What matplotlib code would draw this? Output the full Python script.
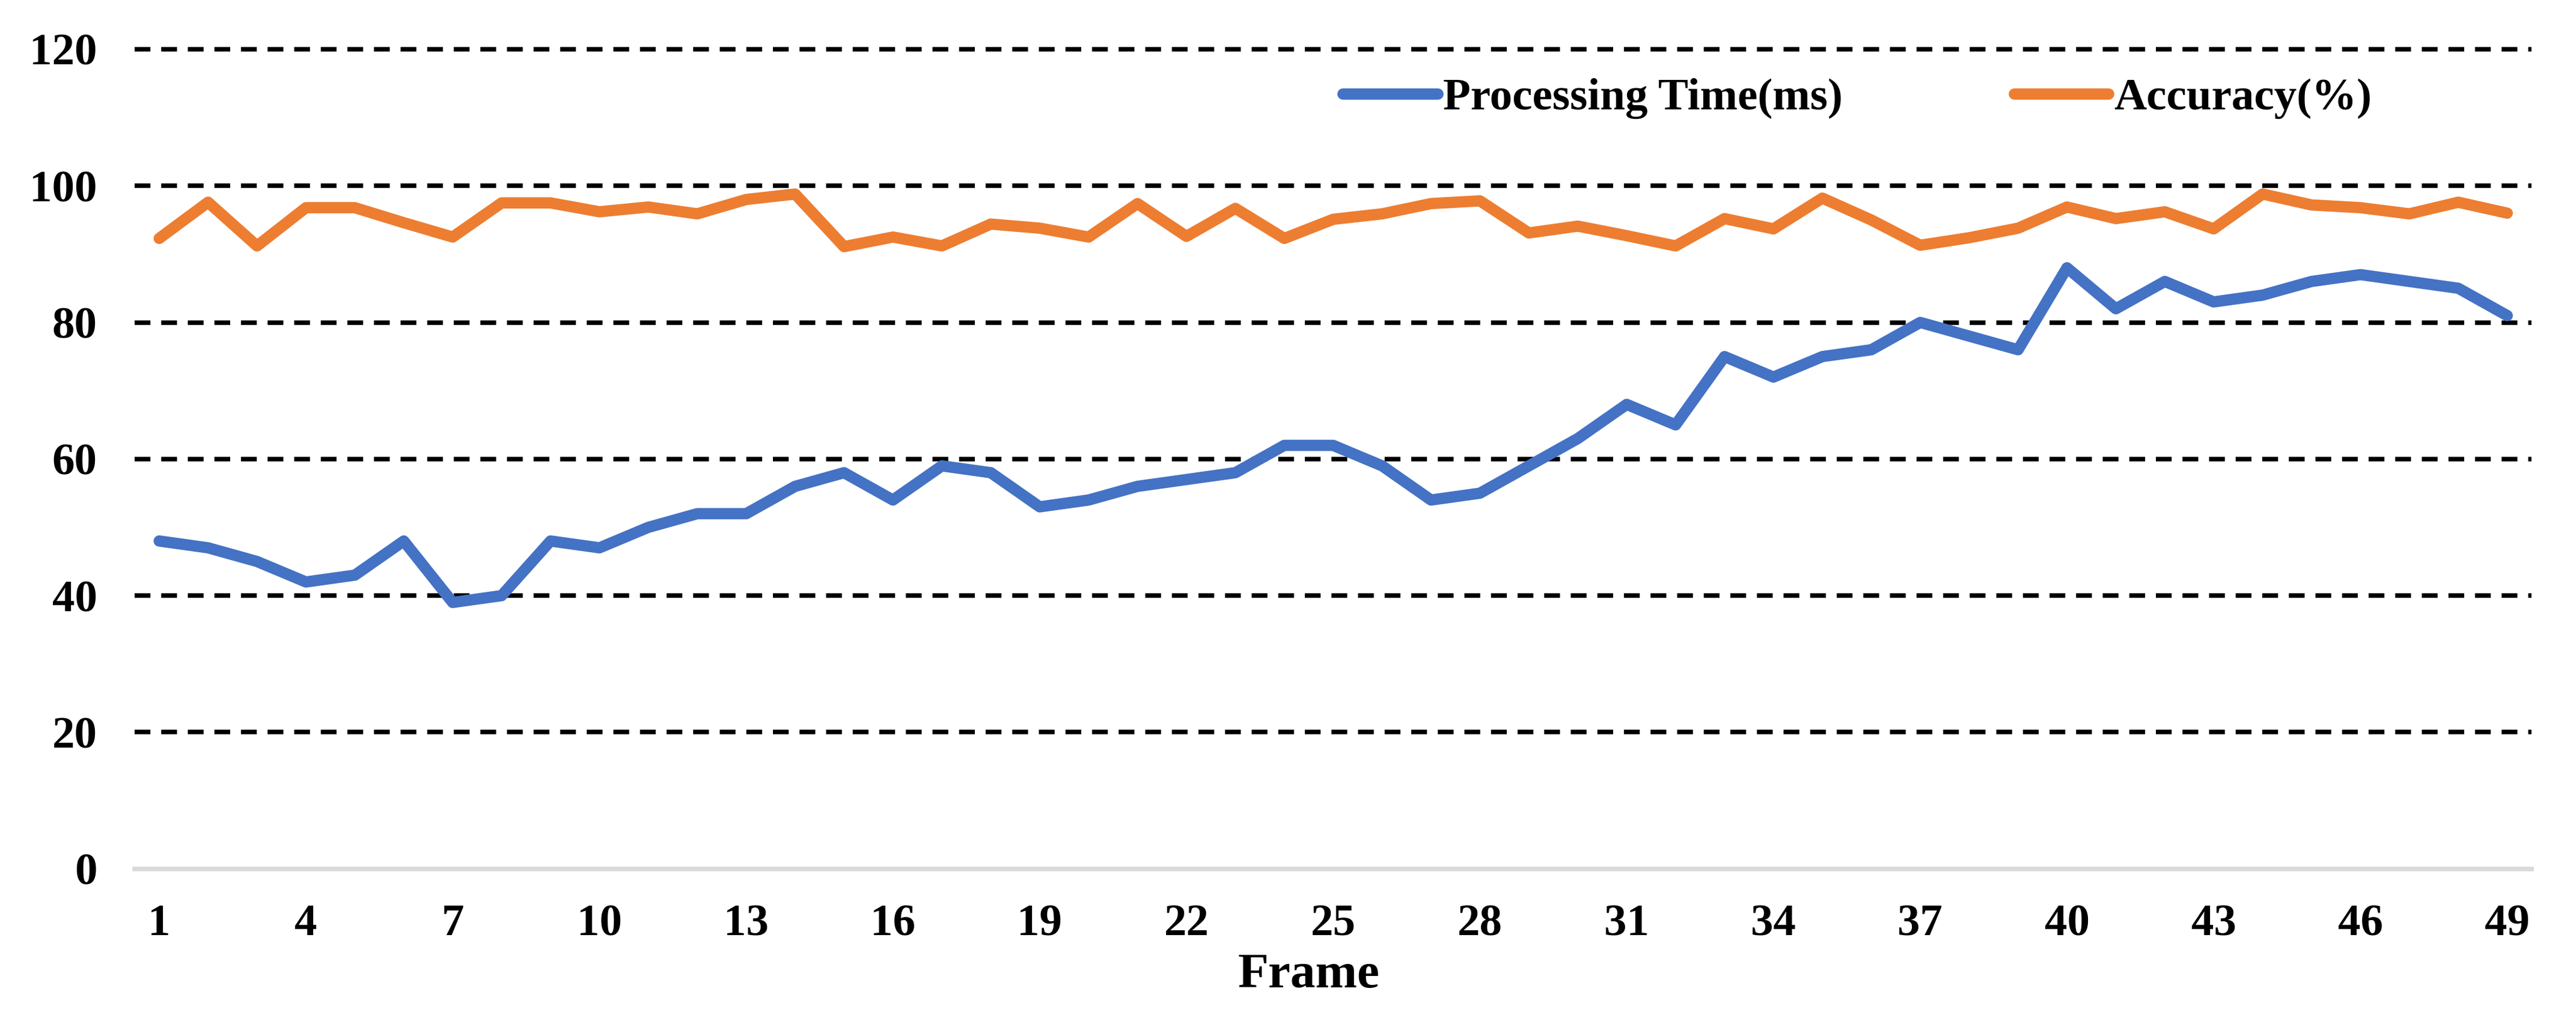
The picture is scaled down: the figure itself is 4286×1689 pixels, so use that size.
import matplotlib
matplotlib.use('Agg')
import matplotlib.pyplot as plt

plt.rcParams['font.family'] = ['Liberation Serif', 'DejaVu Serif']
plt.rcParams['font.weight'] = 'bold'

frames = list(range(1, 50))

processing_time = [48, 47, 45, 42, 43, 48, 39, 40, 48, 47,
                   50, 52, 52, 56, 58, 54, 59, 58, 53, 54,
                   56, 57, 58, 62, 62, 59, 54, 55, 59, 63,
                   68, 65, 75, 72, 75, 76, 80, 78, 76, 88,
                   82, 86, 83, 84, 86, 87, 86, 85, 81]

accuracy = [92.3, 97.6, 91.2, 96.8, 96.8, 94.6, 92.5, 97.5, 97.5, 96.2,
            96.9, 95.9, 98.0, 98.8, 91.1, 92.5, 91.2, 94.4, 93.8, 92.5,
            97.4, 92.6, 96.7, 92.3, 95.1, 95.9, 97.4, 97.8, 93.1, 94.1,
            92.7, 91.2, 95.2, 93.7, 98.2, 95.0, 91.3, 92.4, 93.8, 96.9,
            95.2, 96.2, 93.7, 98.8, 97.2, 96.8, 95.9, 97.6, 96.0]

xticks = list(range(1, 50, 3))
yticks = [0, 20, 40, 60, 80, 100, 120]

fig = plt.figure(figsize=(4286 / 300, 1689 / 300), dpi=300)
ax = fig.add_axes([0.0523, 0.144, 0.9305, 0.8075])

# dashed grid lines, light grey zero line
for y in yticks[1:]:
    ax.axhline(y, color='black', lw=1.8, dashes=(3.5, 2.4), zorder=1, clip_on=False)
ax.axhline(0, color='#d9d9d9', lw=1.8, zorder=1, clip_on=False)

ax.plot(frames, processing_time, color='#4472c4', lw=4.5,
        solid_capstyle='round', solid_joinstyle='round', label='Processing Time(ms)', zorder=3)
ax.plot(frames, accuracy, color='#ed7d31', lw=4.5,
        solid_capstyle='round', solid_joinstyle='round', label='Accuracy(%)', zorder=3)

ax.set_xlim(0.5, 49.5)
ax.set_ylim(0, 120)
ax.set_xticks(xticks)
ax.set_yticks(yticks)
ax.tick_params(axis='both', length=0, labelsize=18)
ax.tick_params(axis='x', pad=14)
ax.tick_params(axis='y', pad=15)
for s in ax.spines.values():
    s.set_visible(False)

fig.text(0.508, 0.027, 'Frame', ha='center', va='baseline', fontsize=20, fontweight='bold')

ax.legend(loc='center', bbox_to_anchor=(0.721, 0.903), bbox_transform=fig.transFigure,
          ncol=2, frameon=False, fontsize=18, handlelength=2.1, handletextpad=0.12,
          columnspacing=3.8)

fig.savefig('out.png', dpi=300)
